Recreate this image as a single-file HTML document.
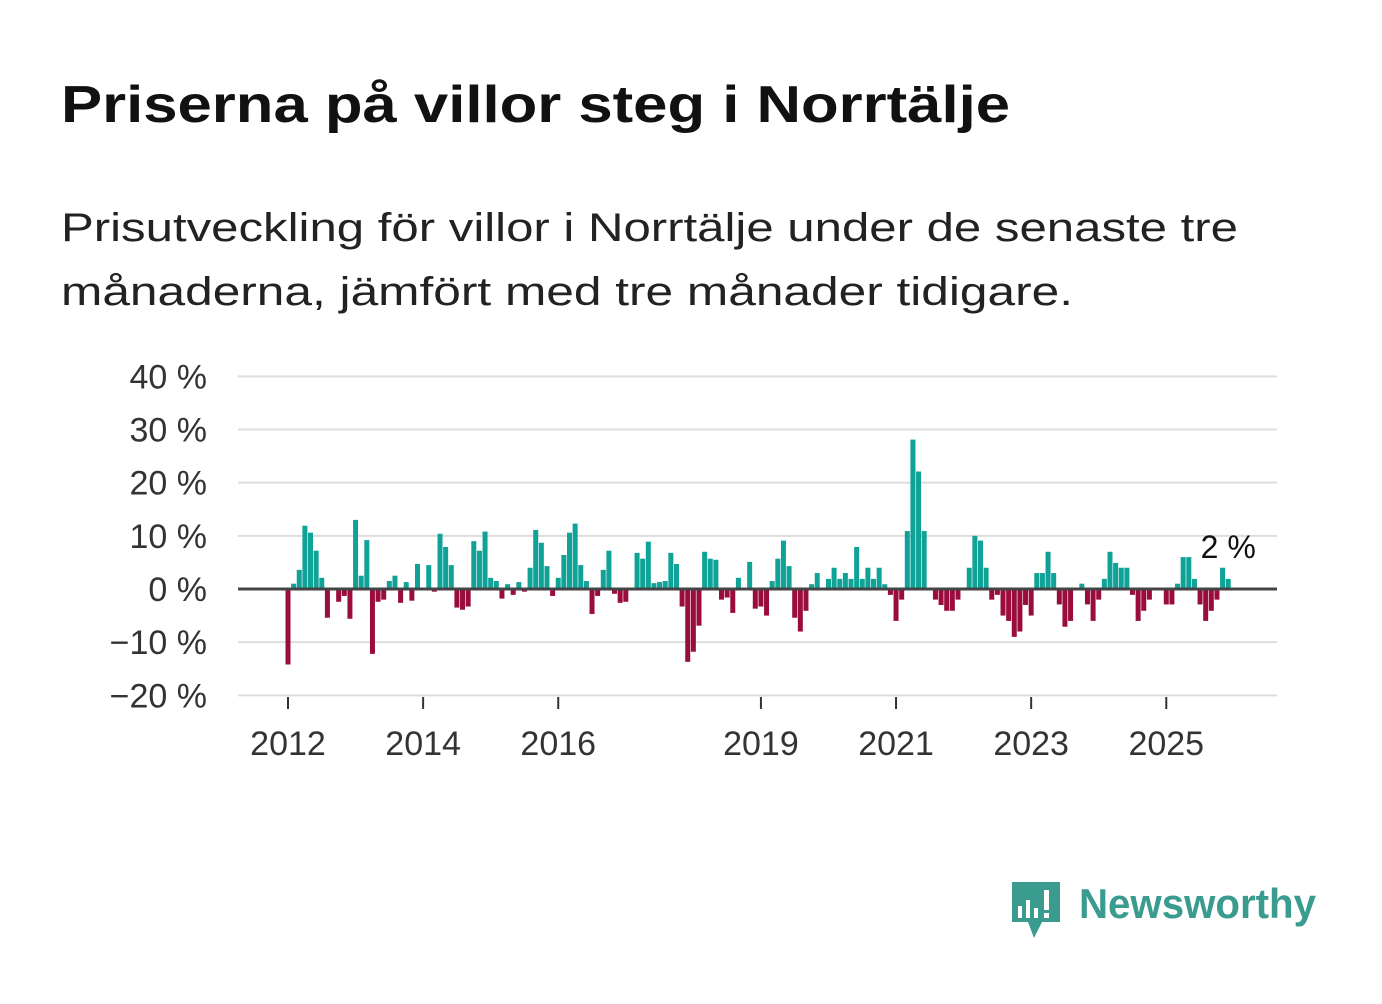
<!DOCTYPE html>
<html><head><meta charset="utf-8"><style>
body{margin:0;background:#fff;width:1382px;height:999px;overflow:hidden;font-family:"Liberation Sans",sans-serif;}
</style></head><body>
<svg width="1382" height="999" viewBox="0 0 1382 999" id="svg">
<text x="61" y="122" font-size="52" font-weight="bold" fill="#111" textLength="949" lengthAdjust="spacingAndGlyphs">Priserna på villor steg i Norrtälje</text>
<text x="61" y="241" font-size="40" fill="#222" textLength="1177" lengthAdjust="spacingAndGlyphs">Prisutveckling för villor i Norrtälje under de senaste tre</text>
<text x="61" y="305" font-size="40" fill="#222" textLength="1012" lengthAdjust="spacingAndGlyphs">månaderna, jämfört med tre månader tidigare.</text>
<g id="grid"></g><g id="bars"></g><g id="axes"></g>
<g>
<path d="M1012 882 h48 v40 h-18 l-8 16 l-6 -16 h-16 z" fill="#3a9b8f"/>
<rect x="1018" y="906" width="4" height="12" fill="#fff"/><rect x="1026" y="900" width="4" height="18" fill="#fff"/><rect x="1034" y="908" width="4" height="10" fill="#fff"/><rect x="1044" y="890" width="5" height="20" fill="#fff"/><rect x="1044" y="913" width="5" height="5" fill="#fff"/>
<text x="1079" y="918" font-size="42" font-weight="bold" fill="#3a9b8f" textLength="237" lengthAdjust="spacingAndGlyphs">Newsworthy</text>
</g>
</svg>
<script>
const years=[2012,2013,2014,2015,2016,2017,2018,2019,2020,2021,2022,2023,2024,2025];
const values=[
-14.2,1,3.6,11.9,10.6,7.2,2.1,-5.4,0,-2.4,-1.3,-5.6,
13,2.5,9.2,-12.2,-2.4,-2,1.5,2.5,-2.6,1.3,-2.2,4.7,
0,4.5,-0.5,10.4,7.9,4.5,-3.5,-3.9,-3.3,9,7.2,10.8,
2.1,1.5,-1.8,0.9,-1.1,1.3,-0.5,4,11.1,8.7,4.3,-1.3,
2.1,6.4,10.6,12.3,4.5,1.5,-4.7,-1.3,3.6,7.2,-0.9,-2.6,
-2.4,0,6.8,5.7,8.9,1.1,1.3,1.5,6.8,4.7,-3.3,-13.7,
-11.8,-6.9,7,5.7,5.5,-2,-1.6,-4.5,2.1,0,5.1,-3.7,
-3.3,-5,1.5,5.7,9.1,4.3,-5.4,-8,-4.1,0.9,3,0,
1.9,4,1.9,3,1.9,7.9,1.9,4,1.9,4,0.9,-1.1,
-6,-2,10.9,28.1,22.1,10.9,0,-2,-3,-4.1,-4.1,-2,
0,4,10,9.1,4,-2,-1.1,-5,-6,-9,-8,-3,
-5,3,3,7,3,-2.9,-7.1,-6,0,1,-2.9,-6,
-2,1.9,7,4.9,4,4,-1.1,-6,-4.1,-2,0,0,
-2.9,-2.9,1,6,6,1.9,-2.9,-6,-4.1,-2,4,1.9];
const yTicks=[40,30,20,10,0,-10,-20];
const xTickYears=[2012,2014,2016,2019,2021,2023,2025];
const lastLabel="2 %";
const NS="http://www.w3.org/2000/svg";
const y=v=>589-v*5.317;
const x=i=>288+i*5.63;
const xYear=yr=>x((yr-years[0])*12);
function mk(tag,a,parent){const e=document.createElementNS(NS,tag);for(const k in a)e.setAttribute(k,a[k]);document.getElementById(parent).appendChild(e);return e;}
yTicks.forEach(t=>{
 if(t!==0){const l=mk('line',{x1:238,x2:1277,y1:y(t),y2:y(t),stroke:'#ddd','stroke-width':2},'grid');
 
 }
 const tx=mk('text',{x:207,y:y(t)+12,'font-size':34,'text-anchor':'end',fill:'#333'},'axes');
 tx.textContent=(t<0?'\u2212'+(-t):t)+' %';
 
 
});
values.forEach((v,i)=>{
 const r=mk('rect',{x:x(i)-2.5,width:5,y:Math.min(y(v),589),height:Math.abs(y(v)-589),fill:v>=0?'#0fa297':'#9a0c3e'},'bars');
 
 
});
const z=mk('line',{x1:238,x2:1277,y1:589,y2:589,stroke:'#444','stroke-width':3},'axes');


xTickYears.forEach(yr=>{
 const tk=mk('line',{x1:xYear(yr),x2:xYear(yr),y1:697,y2:709,stroke:'#333','stroke-width':2},'axes');
 
 
 const tx=mk('text',{x:xYear(yr),y:755,'font-size':34,'text-anchor':'middle',fill:'#333'},'axes');
 tx.textContent=yr;
 
 
});
const ll=mk('text',{x:x(values.length-1),y:558,'font-size':32,'text-anchor':'middle',fill:'#111'},'axes');
ll.textContent=lastLabel;


</script>
</body></html>
